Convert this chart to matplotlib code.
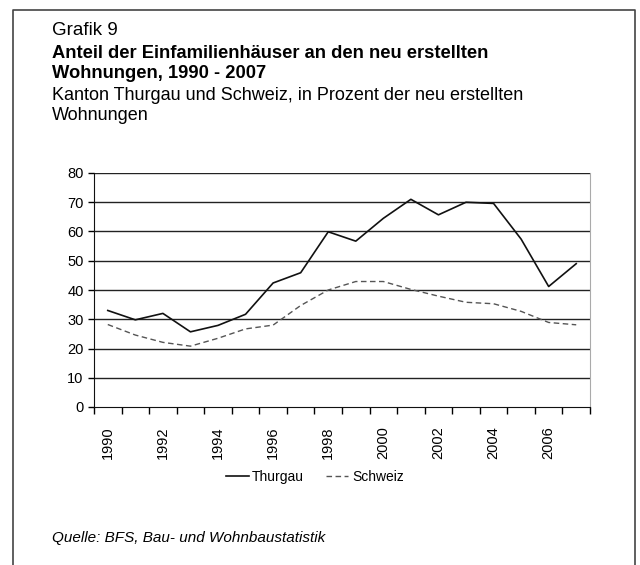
import matplotlib
matplotlib.use("Agg")
import matplotlib.pyplot as plt
from matplotlib import font_manager
from matplotlib.lines import Line2D

# narrow font if available, otherwise plain sans
names = {f.name for f in font_manager.fontManager.ttflist}
if "Liberation Sans Narrow" in names:
    plt.rcParams["font.family"] = ["Liberation Sans Narrow", "DejaVu Sans"]
else:
    plt.rcParams["font.family"] = ["Liberation Sans", "DejaVu Sans"]

years = list(range(1990, 2008))
thurgau = [33.0, 29.8, 32.0, 25.7, 27.9, 31.7, 42.4, 45.9, 59.9, 56.7,
           64.5, 71.0, 65.7, 70.0, 69.6, 57.4, 41.2, 49.0]
schweiz = [28.2, 24.6, 22.1, 20.8, 23.5, 26.7, 28.0, 34.7, 40.0, 42.9,
           42.9, 40.2, 37.9, 35.8, 35.3, 32.7, 28.9, 28.1]
yticks = [0, 10, 20, 30, 40, 50, 60, 70, 80]

W, H = 640, 565
fig = plt.figure(figsize=(6.4, 5.65), dpi=100)
ax = fig.add_axes([94 / W, 1 - 407 / H, 496 / W, 234 / H])

xs = [i + 0.5 for i in range(len(years))]
ax.plot(xs, thurgau, color="#111111", lw=1.2, label="Thurgau")
ax.plot(xs, schweiz, color="#555555", lw=1.0, dashes=(4, 2.5), label="Schweiz")

ax.set_xlim(0, len(years))
ax.set_ylim(0, 80)
ax.set_yticks(yticks)
ax.set_yticklabels([str(v) for v in yticks])
for v in yticks[1:]:
    ax.axhline(v, color="#222222", lw=1.0, zorder=0)

ax.set_xticks(range(len(years) + 1))
ax.set_xticklabels([])
ax.set_xticks([xs[i] for i in range(0, len(years), 2)], minor=True)
ax.set_xticklabels([str(years[i]) for i in range(0, len(years), 2)],
                   minor=True, rotation=90)
ax.tick_params(axis="x", which="major", direction="out", length=5, width=1)
ax.tick_params(axis="x", which="minor", length=0, pad=14, labelsize=10.5)
ax.tick_params(axis="y", direction="out", length=4, width=1, labelsize=10.5)

ax.spines["top"].set_visible(False)
ax.spines["right"].set_color("#aaaaaa")
ax.spines["left"].set_color("#111111")
ax.spines["bottom"].set_color("#111111")

fig.legend(loc="center", bbox_to_anchor=(315 / W, 1 - 477 / H), ncol=2,
           frameon=False, fontsize=10, handlelength=1.6, handletextpad=0.25,
           columnspacing=1.6)

tx = 52 / W
fig.text(tx, 1 - 35 / H, "Grafik 9", fontsize=13.5, va="baseline")
fig.text(tx, 1 - 58 / H, "Anteil der Einfamilienhäuser an den neu erstellten",
         fontsize=13.2, fontweight="bold", va="baseline")
fig.text(tx, 1 - 78 / H, "Wohnungen, 1990 - 2007",
         fontsize=13.2, fontweight="bold", va="baseline")
fig.text(tx, 1 - 100 / H, "Kanton Thurgau und Schweiz, in Prozent der neu erstellten",
         fontsize=13, va="baseline")
fig.text(tx, 1 - 120 / H, "Wohnungen", fontsize=13, va="baseline")
fig.text(tx, 1 - 538 / H, "Quelle: BFS, Bau- und Wohnbaustatistik",
         fontsize=11, style="italic", va="center")

# open-bottom frame around the figure
fig.add_artist(Line2D([13 / W, 13 / W, 635 / W, 635 / W],
                      [0, 1 - 10 / H, 1 - 10 / H, 0],
                      transform=fig.transFigure, color="#444444", lw=1.2))

fig.savefig("out.png", dpi=100)
